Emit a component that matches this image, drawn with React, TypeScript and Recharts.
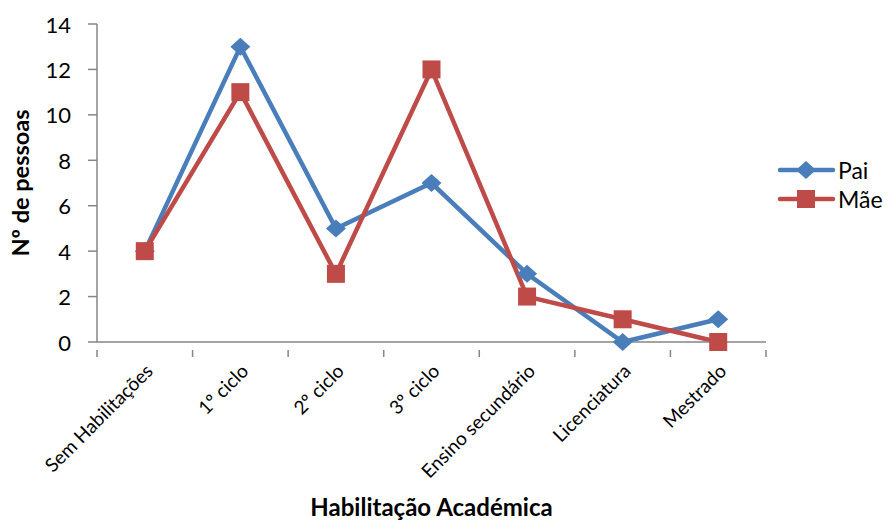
import React from 'react';
import { LineChart, Line, XAxis, YAxis, Legend } from 'recharts';

// Habilitações académicas dos pais
const categories = [
  'Sem Habilitações',
  '1º ciclo',
  '2º ciclo',
  '3º ciclo',
  'Ensino secundário',
  'Licenciatura',
  'Mestrado',
];
const paiValues = [4, 13, 5, 7, 3, 0, 1];
const maeValues = [4, 11, 3, 12, 2, 1, 0];
const yTicks = [0, 2, 4, 6, 8, 10, 12, 14];

const data = categories.map((categoria, i) => ({
  categoria,
  pai: paiValues[i],
  mae: maeValues[i],
}));

const BLUE = '#4A7EBB';
const RED = '#BE4B48';
const AXIS = '#868686';
const FONT = 'Lato, "Open Sans", sans-serif';

const WIDTH = 888;
const HEIGHT = 522;
const MARGIN = { top: 24, right: 122, bottom: 0, left: 0 };
const Y_AXIS_W = 97;
const X_AXIS_H = 180;
const PLOT_W = WIDTH - MARGIN.left - MARGIN.right - Y_AXIS_W;
const BAND = PLOT_W / categories.length;

const Diamond = (props: any) => {
  const { cx, cy } = props;
  if (cx == null || cy == null) return null;
  return (
    <path
      d={`M${cx},${cy - 9} L${cx + 10},${cy} L${cx},${cy + 9} L${cx - 10},${cy} Z`}
      fill={BLUE}
    />
  );
};

const Square = (props: any) => {
  const { cx, cy } = props;
  if (cx == null || cy == null) return null;
  return <rect x={cx - 9} y={cy - 9} width={18} height={18} fill={RED} />;
};

const YTick = (props: any) => {
  const { x, y, payload } = props;
  return (
    <g>
      <line x1={x + 8} x2={x - 1} y1={y} y2={y} stroke={AXIS} strokeWidth={1.5} />
      <text
        x={x - 18}
        y={y}
        textAnchor="end"
        dominantBaseline="central"
        fontFamily={FONT}
        fontSize={22}
        fill="#000"
      >
        {payload.value}
      </text>
    </g>
  );
};

const XTick = (props: any) => {
  const { x, y, payload, index } = props;
  const left = x - BAND / 2;
  const right = x + BAND / 2;
  const tx = x + 4;
  const ty = y + 17;
  return (
    <g>
      <line x1={left} x2={left} y1={y} y2={y + 7} stroke={AXIS} strokeWidth={1.5} />
      {index === categories.length - 1 && (
        <line x1={right} x2={right} y1={y} y2={y + 7} stroke={AXIS} strokeWidth={1.5} />
      )}
      <text
        x={tx}
        y={ty}
        textAnchor="end"
        dominantBaseline="central"
        transform={`rotate(-45 ${tx} ${ty})`}
        fontFamily={FONT}
        fontSize={19}
        fill="#000"
      >
        {payload.value}
      </text>
    </g>
  );
};

const YLabel = (props: any) => {
  const { viewBox } = props;
  const cx = viewBox.x + 20;
  const cy = viewBox.y + viewBox.height / 2;
  return (
    <text
      x={cx}
      y={cy}
      textAnchor="middle"
      dominantBaseline="central"
      transform={`rotate(-90 ${cx} ${cy})`}
      fontFamily={FONT}
      fontWeight="bold"
      fontSize={23.5}
      fill="#000"
    >
      Nº de pessoas
    </text>
  );
};

const XLabel = (props: any) => {
  const { viewBox } = props;
  return (
    <text
      x={viewBox.x + viewBox.width / 2}
      y={viewBox.y + 164}
      textAnchor="middle"
      dominantBaseline="central"
      fontFamily={FONT}
      fontWeight="bold"
      fontSize={24}
      fill="#000"
    >
      Habilitação Académica
    </text>
  );
};

const series = [
  { name: 'Pai', color: BLUE, marker: 'diamond' },
  { name: 'Mãe', color: RED, marker: 'square' },
];

const LegendContent = () => (
  <svg width={110} height={60}>
    {series.map((s, i) => {
      const y = 15 + i * 29;
      return (
        <g key={s.name}>
          <line x1={2} x2={55} y1={y} y2={y} stroke={s.color} strokeWidth={4.5} strokeLinecap="round" />
          {s.marker === 'diamond' ? (
            <path d={`M28,${y - 9} L38,${y} L28,${y + 9} L18,${y} Z`} fill={s.color} />
          ) : (
            <rect x={19} y={y - 9} width={18} height={18} fill={s.color} />
          )}
          <text
            x={60}
            y={y}
            dominantBaseline="central"
            fontFamily={FONT}
            fontSize={23}
            fill="#000"
          >
            {s.name}
          </text>
        </g>
      );
    })}
  </svg>
);

export default function App() {
  return (
    <div style={{ position: 'absolute', left: 0, top: 0, width: WIDTH, height: HEIGHT, background: '#fff' }}>
      <LineChart width={WIDTH} height={HEIGHT} data={data} margin={MARGIN}>
        <XAxis
          dataKey="categoria"
          scale="band"
          height={X_AXIS_H}
          interval={0}
          tickLine={false}
          axisLine={{ stroke: AXIS, strokeWidth: 1.5 }}
          tick={<XTick />}
          label={<XLabel />}
        />
        <YAxis
          width={Y_AXIS_W}
          domain={[0, 14]}
          ticks={yTicks}
          interval={0}
          tickLine={false}
          axisLine={{ stroke: AXIS, strokeWidth: 1.5 }}
          tick={<YTick />}
          label={<YLabel />}
        />
        <Legend
          layout="vertical"
          align="center"
          verticalAlign="middle"
          wrapperStyle={{ left: 778, top: 155, width: 110 }}
          content={<LegendContent />}
        />
        <Line
          type="linear"
          dataKey="pai"
          name="Pai"
          stroke={BLUE}
          strokeWidth={4.5}
          dot={<Diamond />}
          activeDot={false}
          isAnimationActive={false}
        />
        <Line
          type="linear"
          dataKey="mae"
          name="Mãe"
          stroke={RED}
          strokeWidth={4.5}
          dot={<Square />}
          activeDot={false}
          isAnimationActive={false}
        />
      </LineChart>
    </div>
  );
}
